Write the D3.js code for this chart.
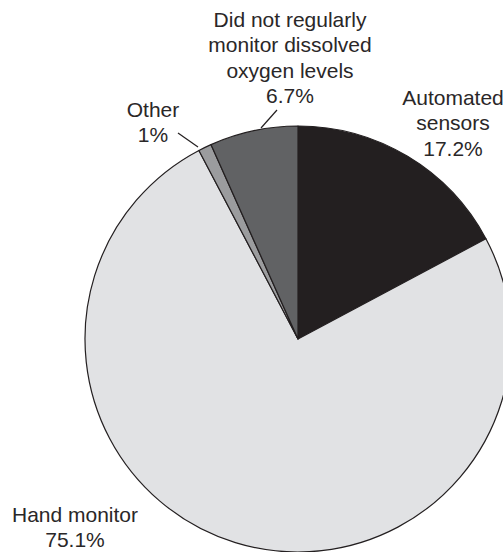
<!DOCTYPE html>
<html lang="en">
<head>
    <meta charset="UTF-8">
    <title>Dissolved oxygen monitoring</title>
    <script src="https://d3js.org/d3.v7.min.js"></script>
    <style>
        body{margin:0;background:#fff;}
        text{font-family:"Liberation Sans",Arial,sans-serif;font-size:21px;fill:#2a2728;}
    </style>
</head>
<body>
<script>
    // data, clockwise from 12 o'clock
    var categories=["Automated sensors","Hand monitor","Other","Did not regularly monitor dissolved oxygen levels"];
    var values=[17.2,75.1,1,6.7];
    var colors=["#231f20","#e1e2e4","#9b9c9e","#616264"];

    // label lines for each slice
    var labelLines=[
        ["Automated","sensors","17.2%"],
        ["Hand monitor","75.1%"],
        ["Other","1%"],
        ["Did not regularly","monitor dissolved","oxygen levels","6.7%"]
    ];

    var width=503,height=552;
    var cx=298,cy=339,r=213;

    var svg=d3.select("body").append("svg")
        .attr("width",width)
        .attr("height",height);

    var pie=d3.pie().sort(null).value(function(d){return d;});
    var arc=d3.arc().innerRadius(0).outerRadius(r);

    var g=svg.append("g").attr("transform","translate("+cx+","+cy+")");

    g.selectAll("path")
        .data(pie(values))
        .enter()
        .append("path")
        .attr("d",arc)
        .attr("fill",function(d,i){return colors[i];})
        .attr("stroke","#231f20")
        .attr("stroke-width",1.2)
        .attr("stroke-linejoin","round");

    // label positions (centre x, first baseline)
    var labelPos=[[453,105],[75,522],[153,117],[290,27]];
    var lineH=25.3;

    labelLines.forEach(function(lines,i){
        var t=svg.append("text")
            .attr("text-anchor","middle")
            .attr("x",labelPos[i][0])
            .attr("y",labelPos[i][1]);
        lines.forEach(function(s,j){
            t.append("tspan")
                .attr("x",labelPos[i][0])
                .attr("dy",j==0?0:lineH)
                .text(s);
        });
    });

    // leader lines for the two small slices
    var leaders=[[[178,133],[198,147]],[[277,110],[261,128]]];
    svg.selectAll("line.leader")
        .data(leaders)
        .enter()
        .append("line")
        .attr("class","leader")
        .attr("x1",function(d){return d[0][0];})
        .attr("y1",function(d){return d[0][1];})
        .attr("x2",function(d){return d[1][0];})
        .attr("y2",function(d){return d[1][1];})
        .attr("stroke","#231f20")
        .attr("stroke-width",1.2);
</script>
</body>
</html>
